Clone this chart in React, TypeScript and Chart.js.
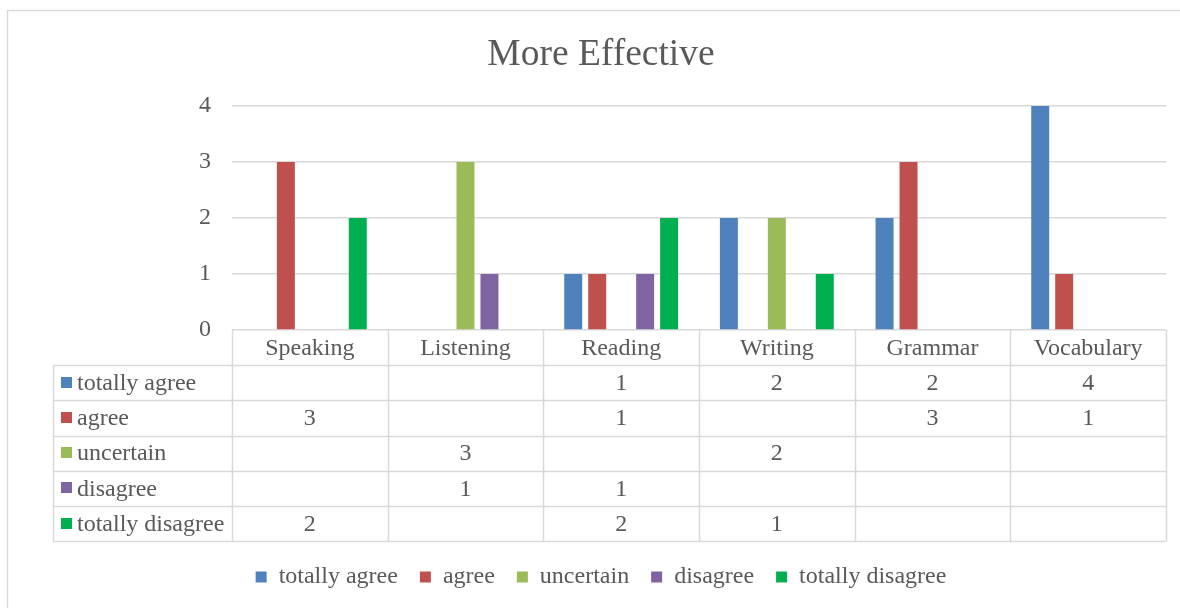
import React, { useEffect, useRef } from "react";
import { Chart, registerables } from "chart.js";

Chart.register(...registerables);

const CATEGORIES = ["Speaking", "Listening", "Reading", "Writing", "Grammar", "Vocabulary"];
const SERIES_NAMES = ["totally agree", "agree", "uncertain", "disagree", "totally disagree"];
const TOTALLY_AGREE = [null, null, 1, 2, 2, 4];
const AGREE = [3, null, 1, null, 3, 1];
const UNCERTAIN = [null, 3, null, 2, null, null];
const DISAGREE = [null, 1, 1, null, null, null];
const TOTALLY_DISAGREE = [2, null, 2, 1, null, null];
const SERIES_COLORS = ["#4F81BD", "#C0504D", "#9BBB59", "#8064A2", "#00B050"];
const Y_TICKS = [0, 1, 2, 3, 4];

const FONT = "'Liberation Serif', 'Times New Roman', serif";
const TEXT = "#595959";
const LINE = "#d9d9d9";

const SERIES_VALUES = [TOTALLY_AGREE, AGREE, UNCERTAIN, DISAGREE, TOTALLY_DISAGREE];

const tablePlugin = {
  id: "dataTable",
  beforeDraw(chart: any) {
    const ctx = chart.ctx;
    ctx.save();
    ctx.strokeStyle = LINE;
    ctx.lineWidth = 1.5;
    ctx.beginPath();
    ctx.moveTo(7.5, chart.height + 5);
    ctx.lineTo(7.5, 10.5);
    ctx.lineTo(chart.width + 5, 10.5);
    ctx.stroke();
    ctx.restore();
  },
  afterDraw(chart: any) {
    const ctx = chart.ctx;
    const area = chart.chartArea;
    const xs = chart.scales.x;
    const n = CATEGORIES.length;
    const colW = (area.right - area.left) / n;
    const top = area.bottom;
    const rowH = 35.2;
    const tableLeft = 53;
    const rows = SERIES_NAMES.length;
    const bottom = top + rowH * (rows + 1);
    const px = (v: number) => Math.round(v) + 0.5;

    ctx.save();
    ctx.strokeStyle = LINE;
    ctx.lineWidth = 1.5;
    ctx.beginPath();
    for (let r = 1; r <= rows + 1; r++) {
      const y = px(top + rowH * r);
      ctx.moveTo(tableLeft, y);
      ctx.lineTo(area.right, y);
    }
    for (let i = 0; i <= n; i++) {
      const x = px(xs.getPixelForValue(0) - colW / 2 + colW * i);
      ctx.moveTo(x, top);
      ctx.lineTo(x, bottom);
    }
    ctx.moveTo(px(tableLeft), top + rowH);
    ctx.lineTo(px(tableLeft), bottom);
    ctx.stroke();

    ctx.font = `24px ${FONT}`;
    ctx.fillStyle = TEXT;
    ctx.textBaseline = "middle";
    ctx.textAlign = "center";
    CATEGORIES.forEach((c, i) => {
      ctx.fillText(c, xs.getPixelForValue(i), top + rowH / 2 + 1);
    });
    SERIES_NAMES.forEach((name, r) => {
      const cy = top + rowH * (r + 1) + rowH / 2;
      ctx.fillStyle = SERIES_COLORS[r];
      ctx.fillRect(61, Math.round(cy - 6), 11, 11);
      ctx.fillStyle = TEXT;
      ctx.textAlign = "left";
      ctx.fillText(name, 77, cy + 1);
      ctx.textAlign = "center";
      SERIES_VALUES[r].forEach((v, i) => {
        if (v !== null && v !== undefined) {
          ctx.fillText(String(v), xs.getPixelForValue(i), cy + 1);
        }
      });
    });
    ctx.restore();
  },
};

export default function App() {
  const ref = useRef<HTMLCanvasElement | null>(null);

  useEffect(() => {
    if (!ref.current) return;
    const chart = new Chart(ref.current, {
      type: "bar",
      data: {
        labels: CATEGORIES,
        datasets: SERIES_NAMES.map((name, i) => ({
          label: name,
          data: SERIES_VALUES[i] as any,
          backgroundColor: SERIES_COLORS[i],
          borderWidth: 0,
          categoryPercentage: 0.77,
          barPercentage: 0.75,
        })),
      },
      options: {
        responsive: false,
        animation: false,
        layout: { padding: { left: 36, right: 14, top: 0, bottom: 9 } },
        plugins: {
          title: {
            display: true,
            text: "More Effective",
            color: TEXT,
            font: { family: FONT, size: 37.5, weight: "normal" as any },
            padding: { top: 33, bottom: 28 },
          },
          legend: {
            position: "bottom",
            labels: {
              color: TEXT,
              font: { family: FONT, size: 24 },
              boxWidth: 11,
              boxHeight: 11,
              padding: 22,
            },
          },
          tooltip: { enabled: false },
        },
        scales: {
          x: {
            type: "category",
            grid: { display: false },
            border: { display: false },
            ticks: { display: false },
            afterFit: (scale: any) => {
              scale.height = 213;
            },
          },
          y: {
            min: 0,
            max: 4,
            afterBuildTicks: (scale: any) => {
              scale.ticks = Y_TICKS.map((v) => ({ value: v }));
            },
            grid: { color: LINE, lineWidth: 1.5, drawTicks: false },
            border: { display: false },
            ticks: {
              color: TEXT,
              font: { family: FONT, size: 24 },
              padding: 21,
            },
            afterFit: (scale: any) => {
              scale.width = 196;
            },
          },
        },
      },
      plugins: [tablePlugin],
    });
    return () => chart.destroy();
  }, []);

  return (
    <div style={{ position: "absolute", left: 0, top: 0, width: 1180, height: 608, background: "#fff" }}>
      <canvas ref={ref} width={1180} height={608} style={{ display: "block" }} />
    </div>
  );
}
